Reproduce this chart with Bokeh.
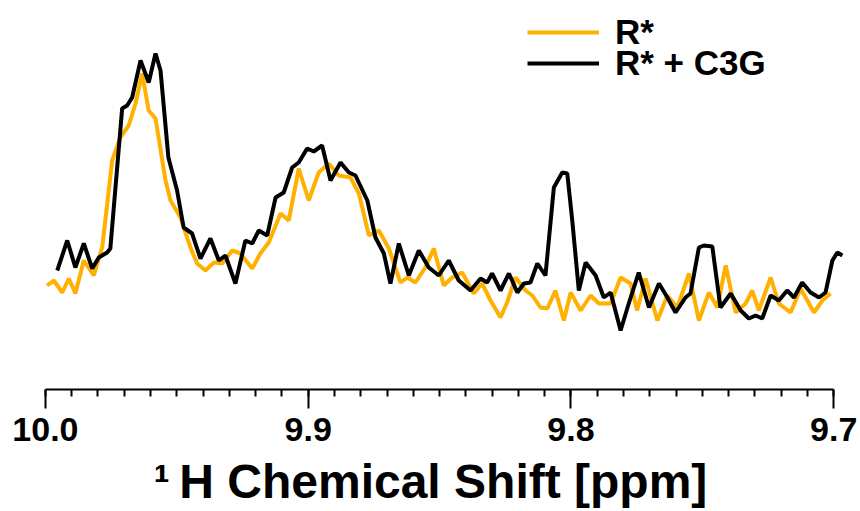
from bokeh.plotting import figure
from bokeh.models import Range1d, FixedTicker, PrintfTickFormatter, Legend, LegendItem
from bokeh.embed import file_html
from bokeh.resources import INLINE

# R* spectrum (orange): chemical shift [ppm] and intensity (arbitrary units)
ppm_r = [9.9994, 9.9968, 9.9936, 9.9911, 9.9886, 9.9854, 9.9816, 9.9784, 9.9746, 9.9715,
         9.9683, 9.9657, 9.9632, 9.9607, 9.9581, 9.9543, 9.9524, 9.9486, 9.9448, 9.9423,
         9.9391, 9.9359, 9.9327, 9.9289, 9.9258, 9.9213, 9.9182, 9.9150, 9.9105, 9.9074,
         9.9036, 9.8998, 9.8960, 9.8922, 9.8884, 9.8839, 9.8807, 9.8769, 9.8731, 9.8693,
         9.8649, 9.8623, 9.8592, 9.8554, 9.8522, 9.8484, 9.8452, 9.8414, 9.8370, 9.8338,
         9.8306, 9.8268, 9.8243, 9.8211, 9.8173, 9.8147, 9.8116, 9.8090, 9.8059, 9.8027,
         9.8001, 9.7963, 9.7925, 9.7894, 9.7849, 9.7811, 9.7773, 9.7748, 9.7716, 9.7671,
         9.7633, 9.7595, 9.7551, 9.7513, 9.7475, 9.7443, 9.7411, 9.7373, 9.7335, 9.7310,
         9.7285, 9.7240, 9.7209, 9.7164, 9.7126, 9.7075, 9.7043, 9.7012]
int_r = [55, 60, 48, 62, 47, 80, 65, 93, 180, 203,
         215, 237, 267, 230, 222, 160, 140, 123, 93, 77,
         70, 78, 77, 90, 87, 72, 87, 98, 127, 120,
         172, 140, 168, 177, 165, 163, 147, 105, 110, 92,
         58, 63, 58, 73, 92, 55, 63, 68, 47, 57,
         40, 23, 38, 63, 50, 45, 33, 32, 50, 20,
         48, 30, 45, 37, 37, 63, 57, 30, 62, 20,
         45, 33, 67, 20, 48, 33, 75, 28, 37, 50,
         30, 63, 37, 28, 52, 28, 40, 47]

# R* + C3G spectrum (black)
ppm_rc = [9.9955, 9.9917, 9.9886, 9.9854, 9.9822, 9.9797, 9.9765, 9.9753, 9.9708, 9.9689,
          9.9670, 9.9638, 9.9607, 9.9581, 9.9562, 9.9532, 9.9499, 9.9474, 9.9442, 9.9410,
          9.9372, 9.9340, 9.9315, 9.9277, 9.9239, 9.9213, 9.9188, 9.9156, 9.9124, 9.9093,
          9.9061, 9.9036, 9.9004, 9.8979, 9.8947, 9.8915, 9.8877, 9.8845, 9.8820, 9.8775,
          9.8744, 9.8712, 9.8687, 9.8655, 9.8617, 9.8579, 9.8541, 9.8503, 9.8465, 9.8427,
          9.8382, 9.8344, 9.8319, 9.8300, 9.8268, 9.8236, 9.8204, 9.8179, 9.8154, 9.8128,
          9.8097, 9.8065, 9.8033, 9.8014, 9.7995, 9.7970, 9.7944, 9.7906, 9.7875, 9.7849,
          9.7811, 9.7780, 9.7742, 9.7703, 9.7665, 9.7633, 9.7602, 9.7564, 9.7545, 9.7513,
          9.7494, 9.7462, 9.7431, 9.7392, 9.7354, 9.7323, 9.7297, 9.7272, 9.7240, 9.7209,
          9.7177, 9.7151, 9.7120, 9.7088, 9.7056, 9.7031, 9.7005, 9.6986, 9.6967]
int_rc = [70, 100, 73, 97, 72, 83, 88, 92, 232, 235,
          243, 280, 258, 287, 270, 183, 150, 113, 107, 82,
          102, 80, 85, 57, 100, 97, 110, 105, 143, 148,
          173, 178, 192, 189, 195, 160, 178, 168, 165, 140,
          103, 87, 57, 97, 65, 90, 73, 65, 80, 60,
          50, 62, 58, 67, 50, 67, 48, 57, 58, 77,
          65, 153, 168, 167, 120, 50, 78, 65, 43, 48,
          10, 37, 68, 33, 57, 43, 28, 43, 47, 93,
          95, 94, 33, 47, 30, 22, 25, 22, 45, 40,
          50, 43, 58, 48, 43, 48, 80, 88, 85]

major_ticks = [10.0, 9.9, 9.8, 9.7]
minor_ticks = [round(9.70 + 0.01 * i, 2) for i in range(31)]
series_labels = ["R*", "R* + C3G"]
series_colors = ["#FFB000", "#000000"]
x_title = "\u00b9\u2009H Chemical Shift [ppm]"

p = figure(width=860, height=511, output_backend="svg", toolbar_location=None,
           x_range=Range1d(10.0171, 9.6898), y_range=Range1d(-49, 340),
           y_axis_location=None,
           min_border_left=0, min_border_right=0, min_border_top=0, min_border_bottom=122)
p.outline_line_color = None
p.xgrid.visible = False
p.ygrid.visible = False
p.background_fill_color = "white"
p.border_fill_color = "white"

r1 = p.line(ppm_r, int_r, line_color=series_colors[0], line_width=4)
r2 = p.line(ppm_rc, int_rc, line_color=series_colors[1], line_width=4)

ax = p.xaxis[0]
ax.ticker = FixedTicker(ticks=major_ticks, minor_ticks=minor_ticks)
ax.bounds = (9.7, 10.0)
ax.formatter = PrintfTickFormatter(format="%.1f")
ax.axis_line_width = 2
ax.axis_line_color = "black"
ax.major_tick_in = 0
ax.major_tick_out = 19
ax.major_tick_line_width = 2
ax.minor_tick_in = 0
ax.minor_tick_out = 7
ax.minor_tick_line_width = 2
ax.major_label_text_font = "Liberation Sans"
ax.major_label_text_font_style = "bold"
ax.major_label_text_font_size = "34px"
ax.major_label_text_color = "black"
ax.major_label_standoff = 9
ax.axis_label = x_title
ax.axis_label_text_font = "Liberation Sans"
ax.axis_label_text_font_style = "bold"
ax.axis_label_text_font_size = "48px"
ax.axis_label_text_color = "black"
ax.axis_label_standoff = 11


def make_legend(label, renderer, y):
    lg = Legend(items=[LegendItem(label=label, renderers=[renderer])], location=(527, y))
    lg.label_text_font = "Liberation Sans"
    lg.label_text_font_style = "bold"
    lg.label_text_font_size = "35px"
    lg.label_text_color = "black"
    lg.glyph_width = 72
    lg.glyph_height = 30
    lg.label_height = 30
    lg.label_standoff = 16
    lg.spacing = 0
    lg.padding = 0
    lg.margin = 0
    lg.border_line_color = None
    lg.background_fill_alpha = 0
    return lg


p.add_layout(make_legend(series_labels[0], r1, 337))
p.add_layout(make_legend(series_labels[1], r2, 306))

open("out.html", "w").write(file_html(p, INLINE))
